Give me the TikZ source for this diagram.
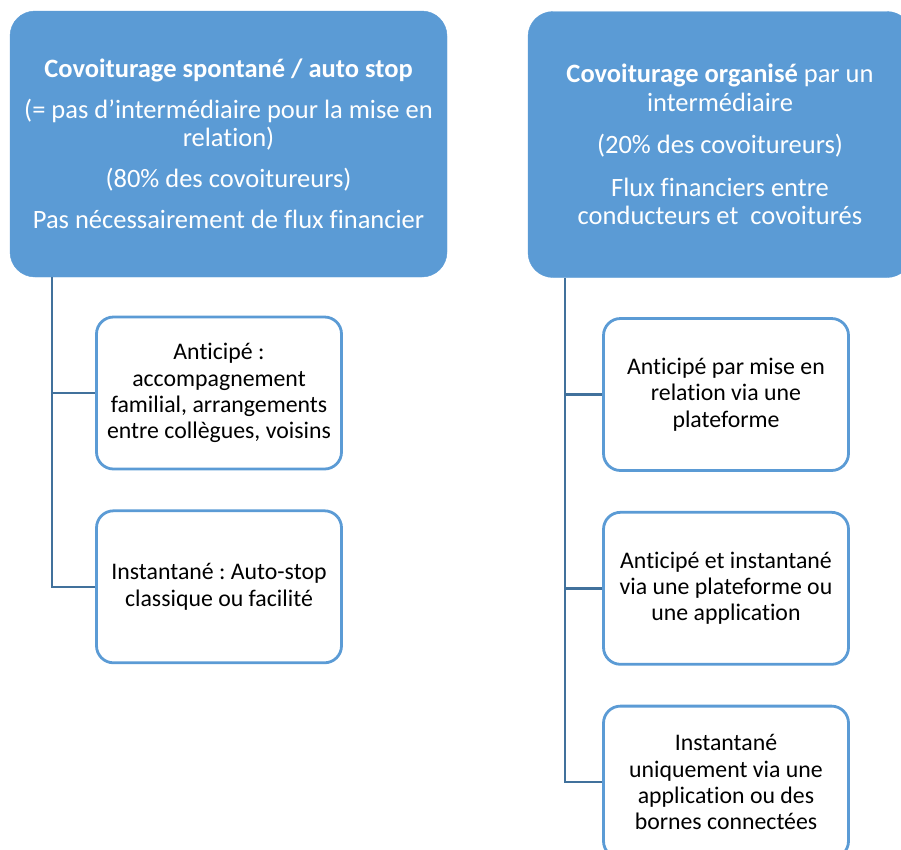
\documentclass[tikz,border=0pt]{standalone}
\usepackage{fontspec}
\setmainfont{Carlito}[Ligatures=NoCommon]
\usepackage{xcolor}
\usepackage{tikz}
\usetikzlibrary{positioning, calc}
\definecolor{headblue}{HTML}{5B9BD5}
\definecolor{linkblue}{HTML}{41719C}
\frenchspacing

\begin{document}
\begin{tikzpicture}[
    x=1pt, y=-1pt,
    catbox/.style={fill=headblue, draw=headblue, rounded corners=25pt, minimum width=437pt, minimum height=266pt, align=center, text=white, font=\fontsize{26.5}{28.5}\selectfont},
    subbox/.style={draw=headblue, line width=2.8pt, fill=white, rounded corners=17pt, minimum width=245pt, minimum height=152pt, align=center, font=\fontsize{23.8}{26.3}\selectfont},
    link/.style={draw=linkblue, line width=2.6pt}
]
    \path[use as bounding box, clip] (0,0) rectangle (901,849);
    \node[catbox] (spontane) at (228.5,144) {\textbf{Covoiturage spontané / auto stop}\\[12.5pt]
        (= pas d’intermédiaire pour la mise en\\ relation)\\[12.5pt]
        (80\% des covoitureurs)\\[12.5pt]
        Pas nécessairement de flux financier};
    \node[catbox, minimum width=384pt] (organise) at (720,144.5) {\textbf{Covoiturage organisé} par un\\ intermédiaire\\[14pt]
        (20\% des covoitureurs)\\[14pt]
        Flux financiers entre\\ conducteurs et~~covoiturés};

    \node[subbox] (anticipe) at (219,393) {Anticipé :\\ accompagnement\\ familial, arrangements\\ entre collègues, voisins};
    \node[subbox, below=39pt of anticipe] (instant) {Instantané : Auto-stop\\ classique ou facilité};

    \node[subbox] (plateforme) at (726,394.5) {Anticipé par mise en\\ relation via une\\ plateforme};
    \node[subbox, below=39pt of plateforme] (mixte) {Anticipé et instantané\\ via une plateforme ou\\ une application};
    \node[subbox, below=39pt of mixte] (bornes) {Instantané\\ uniquement via une\\ application ou des\\ bornes connectées};

    \coordinate (ltrunk) at (52,277);
    \coordinate (rtrunk) at (565,278);
    \draw[link] (ltrunk) |- (instant.west);
    \draw[link] (ltrunk |- anticipe.west) -- (anticipe.west);
    \draw[link] (rtrunk) |- (bornes.west);
    \draw[link] (rtrunk |- plateforme.west) -- (plateforme.west);
    \draw[link] (rtrunk |- mixte.west) -- (mixte.west);
\end{tikzpicture}
\end{document}
